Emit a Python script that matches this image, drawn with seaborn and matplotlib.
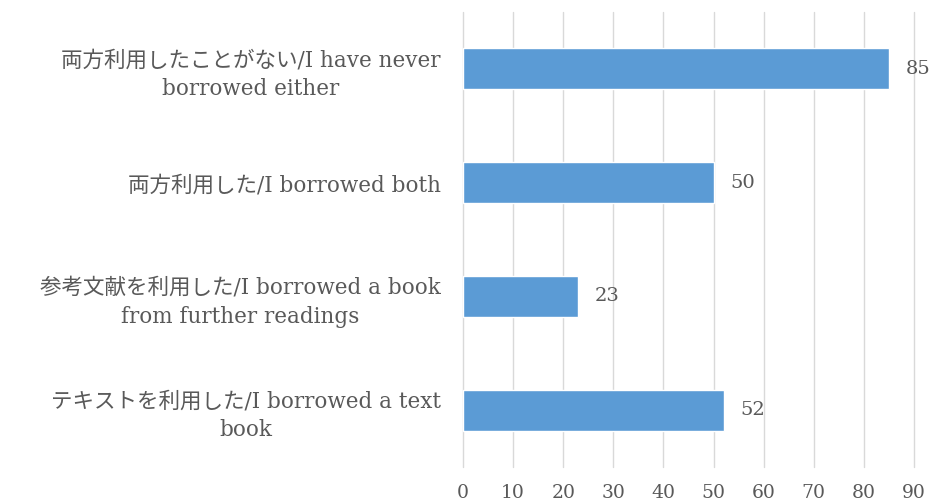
import matplotlib
matplotlib.use("Agg")
import matplotlib.pyplot as plt
import pandas as pd
import seaborn as sns

categories = [
    "両方利用したことがない/I have never\nborrowed either",
    "両方利用した/I borrowed both",
    "参考文献を利用した/I borrowed a book\nfrom further readings",
    "テキストを利用した/I borrowed a text\nbook",
]
counts = [85, 50, 23, 52]
x_ticks = list(range(0, 100, 10))


def main():
    sns.set_style("white")
    plt.rcParams["font.family"] = ["DejaVu Serif", "Noto Sans CJK JP"]
    text_color = "#595959"

    df = pd.DataFrame({"category": categories, "count": counts})

    fig = plt.figure(figsize=(9.34, 5.04), dpi=100)
    ax = fig.add_axes([463 / 934, 1 - 467 / 504, (914 - 463) / 934, (467 - 12) / 504])

    sns.barplot(data=df, x="count", y="category", orient="h", color="#5B9BD5",
                saturation=1, width=0.36, ax=ax)

    ax.set_xlim(0, 90)
    ax.set_ylim(3.5, -0.5)
    ax.set_xticks(x_ticks)
    ax.set_xlabel("")
    ax.set_ylabel("")
    ax.grid(axis="x", color="#D9D9D9", linewidth=1)
    ax.set_axisbelow(True)
    for gl in ax.get_xgridlines():
        gl.set_clip_on(False)
    for s in ax.spines.values():
        s.set_visible(False)

    ax.tick_params(axis="x", length=0, pad=12, labelsize=13.5, labelcolor=text_color)
    ax.tick_params(axis="y", length=0, pad=16, labelsize=15.5, labelcolor=text_color)
    for lbl in ax.get_yticklabels():
        lbl.set_multialignment("center")
        lbl.set_linespacing(1.4)

    ax.bar_label(ax.containers[0], padding=12, fontsize=14, color=text_color)

    fig.savefig("out.png", dpi=100)


if __name__ == "__main__":
    main()
